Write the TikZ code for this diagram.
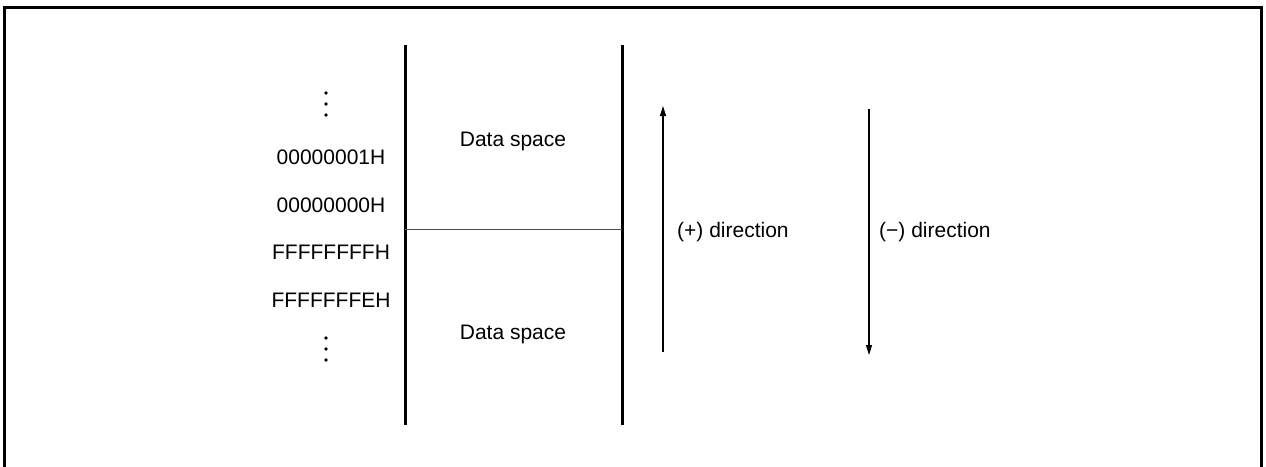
\documentclass[tikz,border=0pt]{standalone}
\usepackage{fontspec}
\setmainfont{Liberation Sans}
\usetikzlibrary{arrows.meta}
\begin{document}
\begin{tikzpicture}[x=1pt,y=-1pt,
  lbl/.style={font=\fontsize{21}{25}\selectfont, inner sep=0pt},
  addr/.style={lbl, anchor=center},
  bar/.style={line width=3pt, black},
  dirarrow/.style={line width=1.2pt, -{Triangle[length=10pt,width=6pt]}},
  vdots/.style={circle, fill=black, inner sep=0pt, minimum size=3.6pt}]
\useasboundingbox (0,0) rectangle (1266,466);
% frame
\draw[line width=3pt] (4,470) -- (4,7) -- (1261,7) -- (1261,470);
% memory bars
\coordinate (lt) at (405,45); \coordinate (lb) at (405,425);
\coordinate (rt) at (622,45); \coordinate (rb) at (622,425);
\draw[bar] (lt) -- (lb);
\draw[bar] (rt) -- (rb);
\coordinate (ml) at (405,229); \coordinate (mr) at (622,229);
\draw[line width=1pt, black!70] (ml) -- (mr);
% labels
\node[lbl] (ds1) at (513,141) {Data space};
\node[lbl] (ds2) at (513,334) {Data space};
\node[addr] (a1) at (331,157) {00000001H};
\node[addr] (a0) at (331,205) {00000000H};
\node[addr] (af) at (331,252) {FFFFFFFFH};
\node[addr] (ae) at (331,300) {FFFFFFFEH};
% dots
\node[vdots] (d1) at (326,93) {};
\node[vdots] (d2) at (326,104) {};
\node[vdots] (d3) at (326,115) {};
\node[vdots] (d4) at (326,338) {};
\node[vdots] (d5) at (326,349) {};
\node[vdots] (d6) at (326,360) {};
% arrows
\coordinate (ub) at (663,352); \coordinate (ut) at (663,106);
\coordinate (dt) at (869,109); \coordinate (db) at (869,355);
\draw[dirarrow] (ub) -- (ut);
\draw[dirarrow] (dt) -- (db);
\node[lbl, anchor=west] (plus) at (677,232) {(+) direction};
\node[lbl, anchor=west] (minus) at (879,232) {(\textminus) direction};
\end{tikzpicture}
\end{document}
